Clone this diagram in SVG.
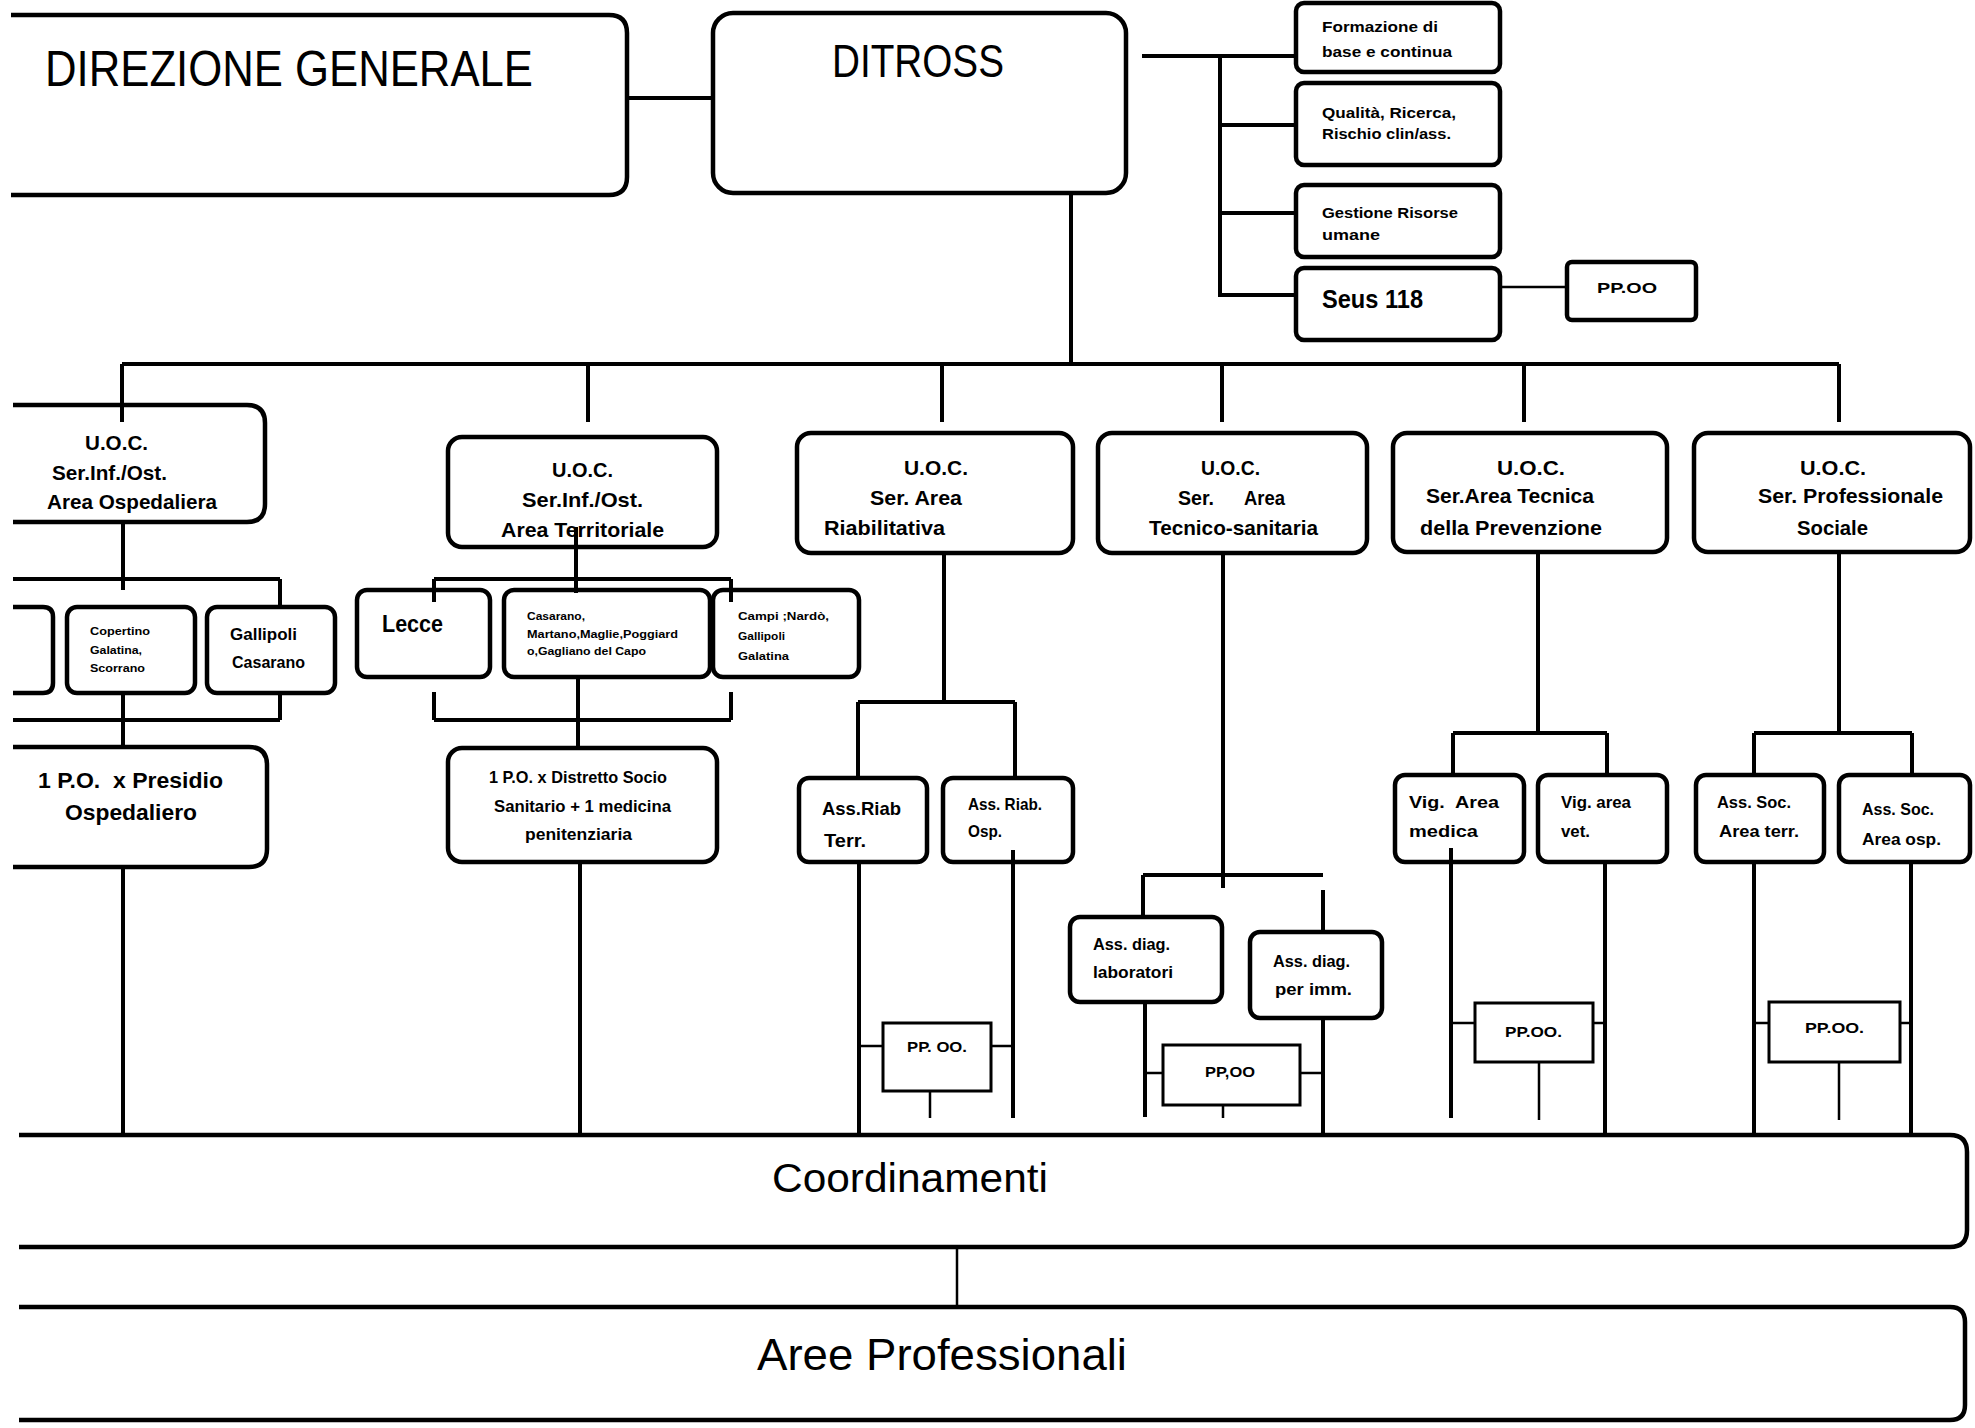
<svg xmlns="http://www.w3.org/2000/svg" width="1975" height="1428" viewBox="0 0 1975 1428">
<style>
.box{fill:#fff;stroke:#000;stroke-width:4.5}
.pp{fill:#fff;stroke:#000;stroke-width:3}
.ln{fill:none;stroke:#000;stroke-width:4}
.th{fill:none;stroke:#000;stroke-width:2.5}
text{font-family:"Liberation Sans",Arial,sans-serif;fill:#000}
.b{font-weight:bold}
.pre{white-space:pre}
</style>
<rect width="1975" height="1428" fill="#fff"/>
<g id="nodes">
<g id="direzione"><path class="box" d="M11,15 H609 Q627,15 627,33 V177 Q627,195 609,195 H11"/>
<text x="45" y="86" font-size="50" textLength="488" lengthAdjust="spacingAndGlyphs">DIREZIONE GENERALE</text></g>
<g id="ditross"><rect class="box" x="713" y="13" width="413" height="180" rx="20"/>
<text x="832" y="77" font-size="47" textLength="172" lengthAdjust="spacingAndGlyphs">DITROSS</text></g>
<g id="formazione"><rect class="box" x="1296" y="3" width="204" height="69" rx="8"/>
<text class="b" font-size="15"><tspan x="1322" y="32" textLength="116" lengthAdjust="spacingAndGlyphs">Formazione di</tspan><tspan x="1322" y="57" textLength="130" lengthAdjust="spacingAndGlyphs">base e continua</tspan></text></g>
<g id="qualita"><rect class="box" x="1296" y="83" width="204" height="82" rx="8"/>
<text class="b" font-size="15"><tspan x="1322" y="118" textLength="134" lengthAdjust="spacingAndGlyphs">Qualità, Ricerca,</tspan><tspan x="1322" y="139" textLength="129" lengthAdjust="spacingAndGlyphs">Rischio clin/ass.</tspan></text></g>
<g id="gestione"><rect class="box" x="1296" y="185" width="204" height="72" rx="8"/>
<text class="b" font-size="15"><tspan x="1322" y="218" textLength="136" lengthAdjust="spacingAndGlyphs">Gestione Risorse</tspan><tspan x="1322" y="240" textLength="58" lengthAdjust="spacingAndGlyphs">umane</tspan></text></g>
<g id="seus"><rect class="box" x="1296" y="268" width="204" height="72" rx="8"/>
<text class="b" x="1322" y="308" font-size="25" textLength="101" lengthAdjust="spacingAndGlyphs">Seus 118</text></g>
<g id="ppoo-seus"><rect class="box" x="1567" y="262" width="129" height="58" rx="5"/>
<text class="b" x="1597" y="293" font-size="15" textLength="60" lengthAdjust="spacingAndGlyphs">PP.OO</text></g>

<g id="uoc-osp"><path class="box" d="M13,405 H247 Q265,405 265,423 V504 Q265,522 247,522 H13"/>
<text class="b" font-size="21"><tspan x="85" y="450" textLength="63" lengthAdjust="spacingAndGlyphs">U.O.C.</tspan><tspan x="52" y="480" textLength="115" lengthAdjust="spacingAndGlyphs">Ser.Inf./Ost.</tspan><tspan x="47" y="509" textLength="170" lengthAdjust="spacingAndGlyphs">Area Ospedaliera</tspan></text></g>
<g id="uoc-terr"><rect class="box" x="448" y="437" width="269" height="110" rx="14"/>
<text class="b" font-size="21"><tspan x="552" y="477" textLength="61" lengthAdjust="spacingAndGlyphs">U.O.C.</tspan><tspan x="522" y="507" textLength="121" lengthAdjust="spacingAndGlyphs">Ser.Inf./Ost.</tspan><tspan x="501" y="537" textLength="163" lengthAdjust="spacingAndGlyphs">Area Territoriale</tspan></text></g>
<g id="uoc-riab"><rect class="box" x="797" y="433" width="276" height="120" rx="14"/>
<text class="b" font-size="21"><tspan x="904" y="475" textLength="64" lengthAdjust="spacingAndGlyphs">U.O.C.</tspan><tspan x="870" y="505" textLength="92" lengthAdjust="spacingAndGlyphs">Ser. Area</tspan><tspan x="824" y="535" textLength="121" lengthAdjust="spacingAndGlyphs">Riabilitativa</tspan></text></g>
<g id="uoc-tec"><rect class="box" x="1098" y="433" width="269" height="120" rx="14"/>
<text class="b" font-size="21"><tspan x="1201" y="475" textLength="59" lengthAdjust="spacingAndGlyphs">U.O.C.</tspan><tspan x="1178" y="505" textLength="36" lengthAdjust="spacingAndGlyphs">Ser.</tspan><tspan x="1244" y="505" textLength="41" lengthAdjust="spacingAndGlyphs">Area</tspan><tspan x="1149" y="535" textLength="169" lengthAdjust="spacingAndGlyphs">Tecnico-sanitaria</tspan></text></g>
<g id="uoc-prev"><rect class="box" x="1393" y="433" width="274" height="119" rx="14"/>
<text class="b" font-size="21"><tspan x="1497" y="475" textLength="68" lengthAdjust="spacingAndGlyphs">U.O.C.</tspan><tspan x="1426" y="503" textLength="168" lengthAdjust="spacingAndGlyphs">Ser.Area Tecnica</tspan><tspan x="1420" y="535" textLength="182" lengthAdjust="spacingAndGlyphs">della Prevenzione</tspan></text></g>
<g id="uoc-soc"><rect class="box" x="1694" y="433" width="276" height="119" rx="14"/>
<text class="b" font-size="21"><tspan x="1800" y="475" textLength="66" lengthAdjust="spacingAndGlyphs">U.O.C.</tspan><tspan x="1758" y="503" textLength="185" lengthAdjust="spacingAndGlyphs">Ser. Professionale</tspan><tspan x="1797" y="535" textLength="71" lengthAdjust="spacingAndGlyphs">Sociale</tspan></text></g>

<g id="osp-cut"><path class="box" d="M13,607 H43 Q53,607 53,617 V683 Q53,693 43,693 H13"/></g>
<g id="copertino"><rect class="box" x="67" y="607" width="128" height="86" rx="10"/>
<text class="b" font-size="10"><tspan x="90" y="635" textLength="60" lengthAdjust="spacingAndGlyphs">Copertino</tspan><tspan x="90" y="654" textLength="52" lengthAdjust="spacingAndGlyphs">Galatina,</tspan><tspan x="90" y="672" textLength="55" lengthAdjust="spacingAndGlyphs">Scorrano</tspan></text></g>
<g id="gallipoli"><rect class="box" x="207" y="607" width="128" height="86" rx="10"/>
<text class="b" font-size="17"><tspan x="230" y="640" textLength="67" lengthAdjust="spacingAndGlyphs">Gallipoli</tspan><tspan x="232" y="668" textLength="73" lengthAdjust="spacingAndGlyphs">Casarano</tspan></text></g>
<g id="presidio"><path class="box" d="M13,747 H249 Q267,747 267,765 V849 Q267,867 249,867 H13"/>
<text class="b" font-size="22"><tspan x="38" y="788" textLength="185" lengthAdjust="spacingAndGlyphs" class="pre">1 P.O.  x Presidio</tspan><tspan x="65" y="820" textLength="132" lengthAdjust="spacingAndGlyphs">Ospedaliero</tspan></text></g>

<g id="lecce"><rect class="box" x="357" y="590" width="133" height="87" rx="10"/>
<text class="b" x="382" y="632" font-size="23" textLength="61" lengthAdjust="spacingAndGlyphs">Lecce</text></g>
<g id="casarano"><rect class="box" x="504" y="590" width="206" height="87" rx="10"/>
<text class="b" font-size="10"><tspan x="527" y="620" textLength="58" lengthAdjust="spacingAndGlyphs">Casarano,</tspan><tspan x="527" y="638" textLength="151" lengthAdjust="spacingAndGlyphs">Martano,Maglie,Poggiard</tspan><tspan x="527" y="655" textLength="119" lengthAdjust="spacingAndGlyphs">o,Gagliano del Capo</tspan></text></g>
<g id="campi"><rect class="box" x="713" y="590" width="146" height="87" rx="10"/>
<text class="b" font-size="10.5"><tspan x="738" y="620" textLength="91" lengthAdjust="spacingAndGlyphs">Campi ;Nardò,</tspan><tspan x="738" y="640" textLength="47" lengthAdjust="spacingAndGlyphs">Gallipoli</tspan><tspan x="738" y="660" textLength="51" lengthAdjust="spacingAndGlyphs">Galatina</tspan></text></g>
<g id="distretto"><rect class="box" x="448" y="748" width="269" height="114" rx="14"/>
<text class="b" font-size="17"><tspan x="489" y="783" textLength="178" lengthAdjust="spacingAndGlyphs">1 P.O. x Distretto Socio</tspan><tspan x="494" y="812" textLength="177" lengthAdjust="spacingAndGlyphs">Sanitario + 1 medicina</tspan><tspan x="525" y="840" textLength="107" lengthAdjust="spacingAndGlyphs">penitenziaria</tspan></text></g>

<g id="riab-terr"><rect class="box" x="799" y="778" width="128" height="84" rx="10"/>
<text class="b" font-size="19"><tspan x="822" y="815" textLength="79" lengthAdjust="spacingAndGlyphs">Ass.Riab</tspan><tspan x="824" y="847" textLength="42" lengthAdjust="spacingAndGlyphs">Terr.</tspan></text></g>
<g id="riab-osp"><rect class="box" x="943" y="778" width="130" height="84" rx="10"/>
<text class="b" font-size="17"><tspan x="968" y="810" textLength="74" lengthAdjust="spacingAndGlyphs">Ass. Riab.</tspan><tspan x="968" y="837" textLength="34" lengthAdjust="spacingAndGlyphs">Osp.</tspan></text></g>
<g id="ppoo-riab"><rect class="pp" x="883" y="1023" width="108" height="68"/>
<text class="b" x="907" y="1052" font-size="15" textLength="60" lengthAdjust="spacingAndGlyphs">PP. OO.</text></g>

<g id="diag-lab"><rect class="box" x="1070" y="917" width="152" height="85" rx="10"/>
<text class="b" font-size="17"><tspan x="1093" y="950" textLength="77" lengthAdjust="spacingAndGlyphs">Ass. diag.</tspan><tspan x="1093" y="978" textLength="80" lengthAdjust="spacingAndGlyphs">laboratori</tspan></text></g>
<g id="diag-imm"><rect class="box" x="1250" y="932" width="132" height="86" rx="10"/>
<text class="b" font-size="17"><tspan x="1273" y="967" textLength="77" lengthAdjust="spacingAndGlyphs">Ass. diag.</tspan><tspan x="1275" y="995" textLength="77" lengthAdjust="spacingAndGlyphs">per imm.</tspan></text></g>
<g id="ppoo-tec"><rect class="pp" x="1163" y="1045" width="137" height="60"/>
<text class="b" x="1205" y="1077" font-size="15" textLength="50" lengthAdjust="spacingAndGlyphs">PP,OO</text></g>

<g id="vig-med"><rect class="box" x="1395" y="775" width="129" height="87" rx="10"/>
<text class="b" font-size="17"><tspan x="1409" y="808" textLength="90" lengthAdjust="spacingAndGlyphs" class="pre">Vig.  Area</tspan><tspan x="1409" y="837" textLength="69" lengthAdjust="spacingAndGlyphs">medica</tspan></text></g>
<g id="vig-vet"><rect class="box" x="1538" y="775" width="129" height="87" rx="10"/>
<text class="b" font-size="17"><tspan x="1561" y="808" textLength="70" lengthAdjust="spacingAndGlyphs">Vig. area</tspan><tspan x="1561" y="837" textLength="29" lengthAdjust="spacingAndGlyphs">vet.</tspan></text></g>
<g id="ppoo-prev"><rect class="pp" x="1475" y="1003" width="118" height="59"/>
<text class="b" x="1505" y="1037" font-size="15" textLength="57" lengthAdjust="spacingAndGlyphs">PP.OO.</text></g>

<g id="soc-terr"><rect class="box" x="1696" y="775" width="128" height="87" rx="10"/>
<text class="b" font-size="16"><tspan x="1717" y="808" textLength="74" lengthAdjust="spacingAndGlyphs">Ass. Soc.</tspan><tspan x="1719" y="837" textLength="80" lengthAdjust="spacingAndGlyphs">Area terr.</tspan></text></g>
<g id="soc-osp"><rect class="box" x="1839" y="775" width="131" height="87" rx="10"/>
<text class="b" font-size="16"><tspan x="1862" y="815" textLength="72" lengthAdjust="spacingAndGlyphs">Ass. Soc.</tspan><tspan x="1862" y="845" textLength="79" lengthAdjust="spacingAndGlyphs">Area osp.</tspan></text></g>
<g id="ppoo-soc"><rect class="pp" x="1769" y="1002" width="131" height="60"/>
<text class="b" x="1805" y="1033" font-size="15" textLength="59" lengthAdjust="spacingAndGlyphs">PP.OO.</text></g>

<g id="coordinamenti"><path class="box" d="M19,1135 H1950 Q1967,1135 1967,1152 V1230 Q1967,1247 1950,1247 H19"/>
<text x="772" y="1192" font-size="40" textLength="276" lengthAdjust="spacingAndGlyphs">Coordinamenti</text></g>
<g id="aree"><path class="box" d="M19,1307 H1950 Q1965,1307 1965,1322 V1405 Q1965,1420 1950,1420 H19"/>
<text x="757" y="1370" font-size="44" textLength="370" lengthAdjust="spacingAndGlyphs">Aree Professionali</text></g>
</g>

<g id="connectors">
<path class="ln" d="M627,98 H713"/>
<path class="ln" d="M1142,56 H1296 M1220,56 V297 M1220,125 H1296 M1220,213 H1296 M1220,295 H1296"/>
<path class="th" d="M1500,287 H1567"/>
<path class="ln" d="M1071,193 V364"/>
<path class="ln" stroke-width="5" d="M122,364 H1839"/>
<path class="ln" d="M122,364 V422 M588,364 V422 M942,364 V422 M1222,364 V422 M1524,364 V422 M1839,364 V422"/>
<path class="ln" d="M123,522 V590 M13,579 H280 M280,579 V607 M280,693 V720 M13,720 H280 M123,693 V747 M123,867 V1135"/>
<path class="ln" d="M576,527 V593 M434,579 H731 M434,579 V602 M731,579 V602 M434,692 V720 M731,692 V720 M434,720 H731 M578,677 V748 M580,862 V1135"/>
<path class="ln" d="M944,553 V702 M858,702 H1015 M858,702 V778 M1015,702 V778 M859,862 V1135 M1013,850 V1118"/>
<path class="th" d="M859,1046 H883 M991,1046 H1013 M930,1091 V1118"/>
<path class="ln" d="M1223,553 V888 M1143,875 H1323 M1143,875 V917 M1323,890 V932 M1145,1002 V1117 M1323,1018 V1135"/>
<path class="th" d="M1145,1073 H1163 M1300,1073 H1323 M1223,1105 V1118"/>
<path class="ln" d="M1538,552 V733 M1453,733 H1607 M1453,733 V775 M1607,733 V775 M1451,848 V1118 M1605,862 V1135"/>
<path class="th" d="M1453,1023 H1475 M1593,1023 H1607 M1539,1062 V1120"/>
<path class="ln" d="M1839,552 V733 M1754,733 H1912 M1754,733 V775 M1912,733 V775 M1754,862 V1135 M1911,862 V1135"/>
<path class="th" d="M1754,1023 H1769 M1900,1023 H1911 M1839,1062 V1120"/>
<path class="th" d="M957,1247 V1307"/>
</g>
</svg>
